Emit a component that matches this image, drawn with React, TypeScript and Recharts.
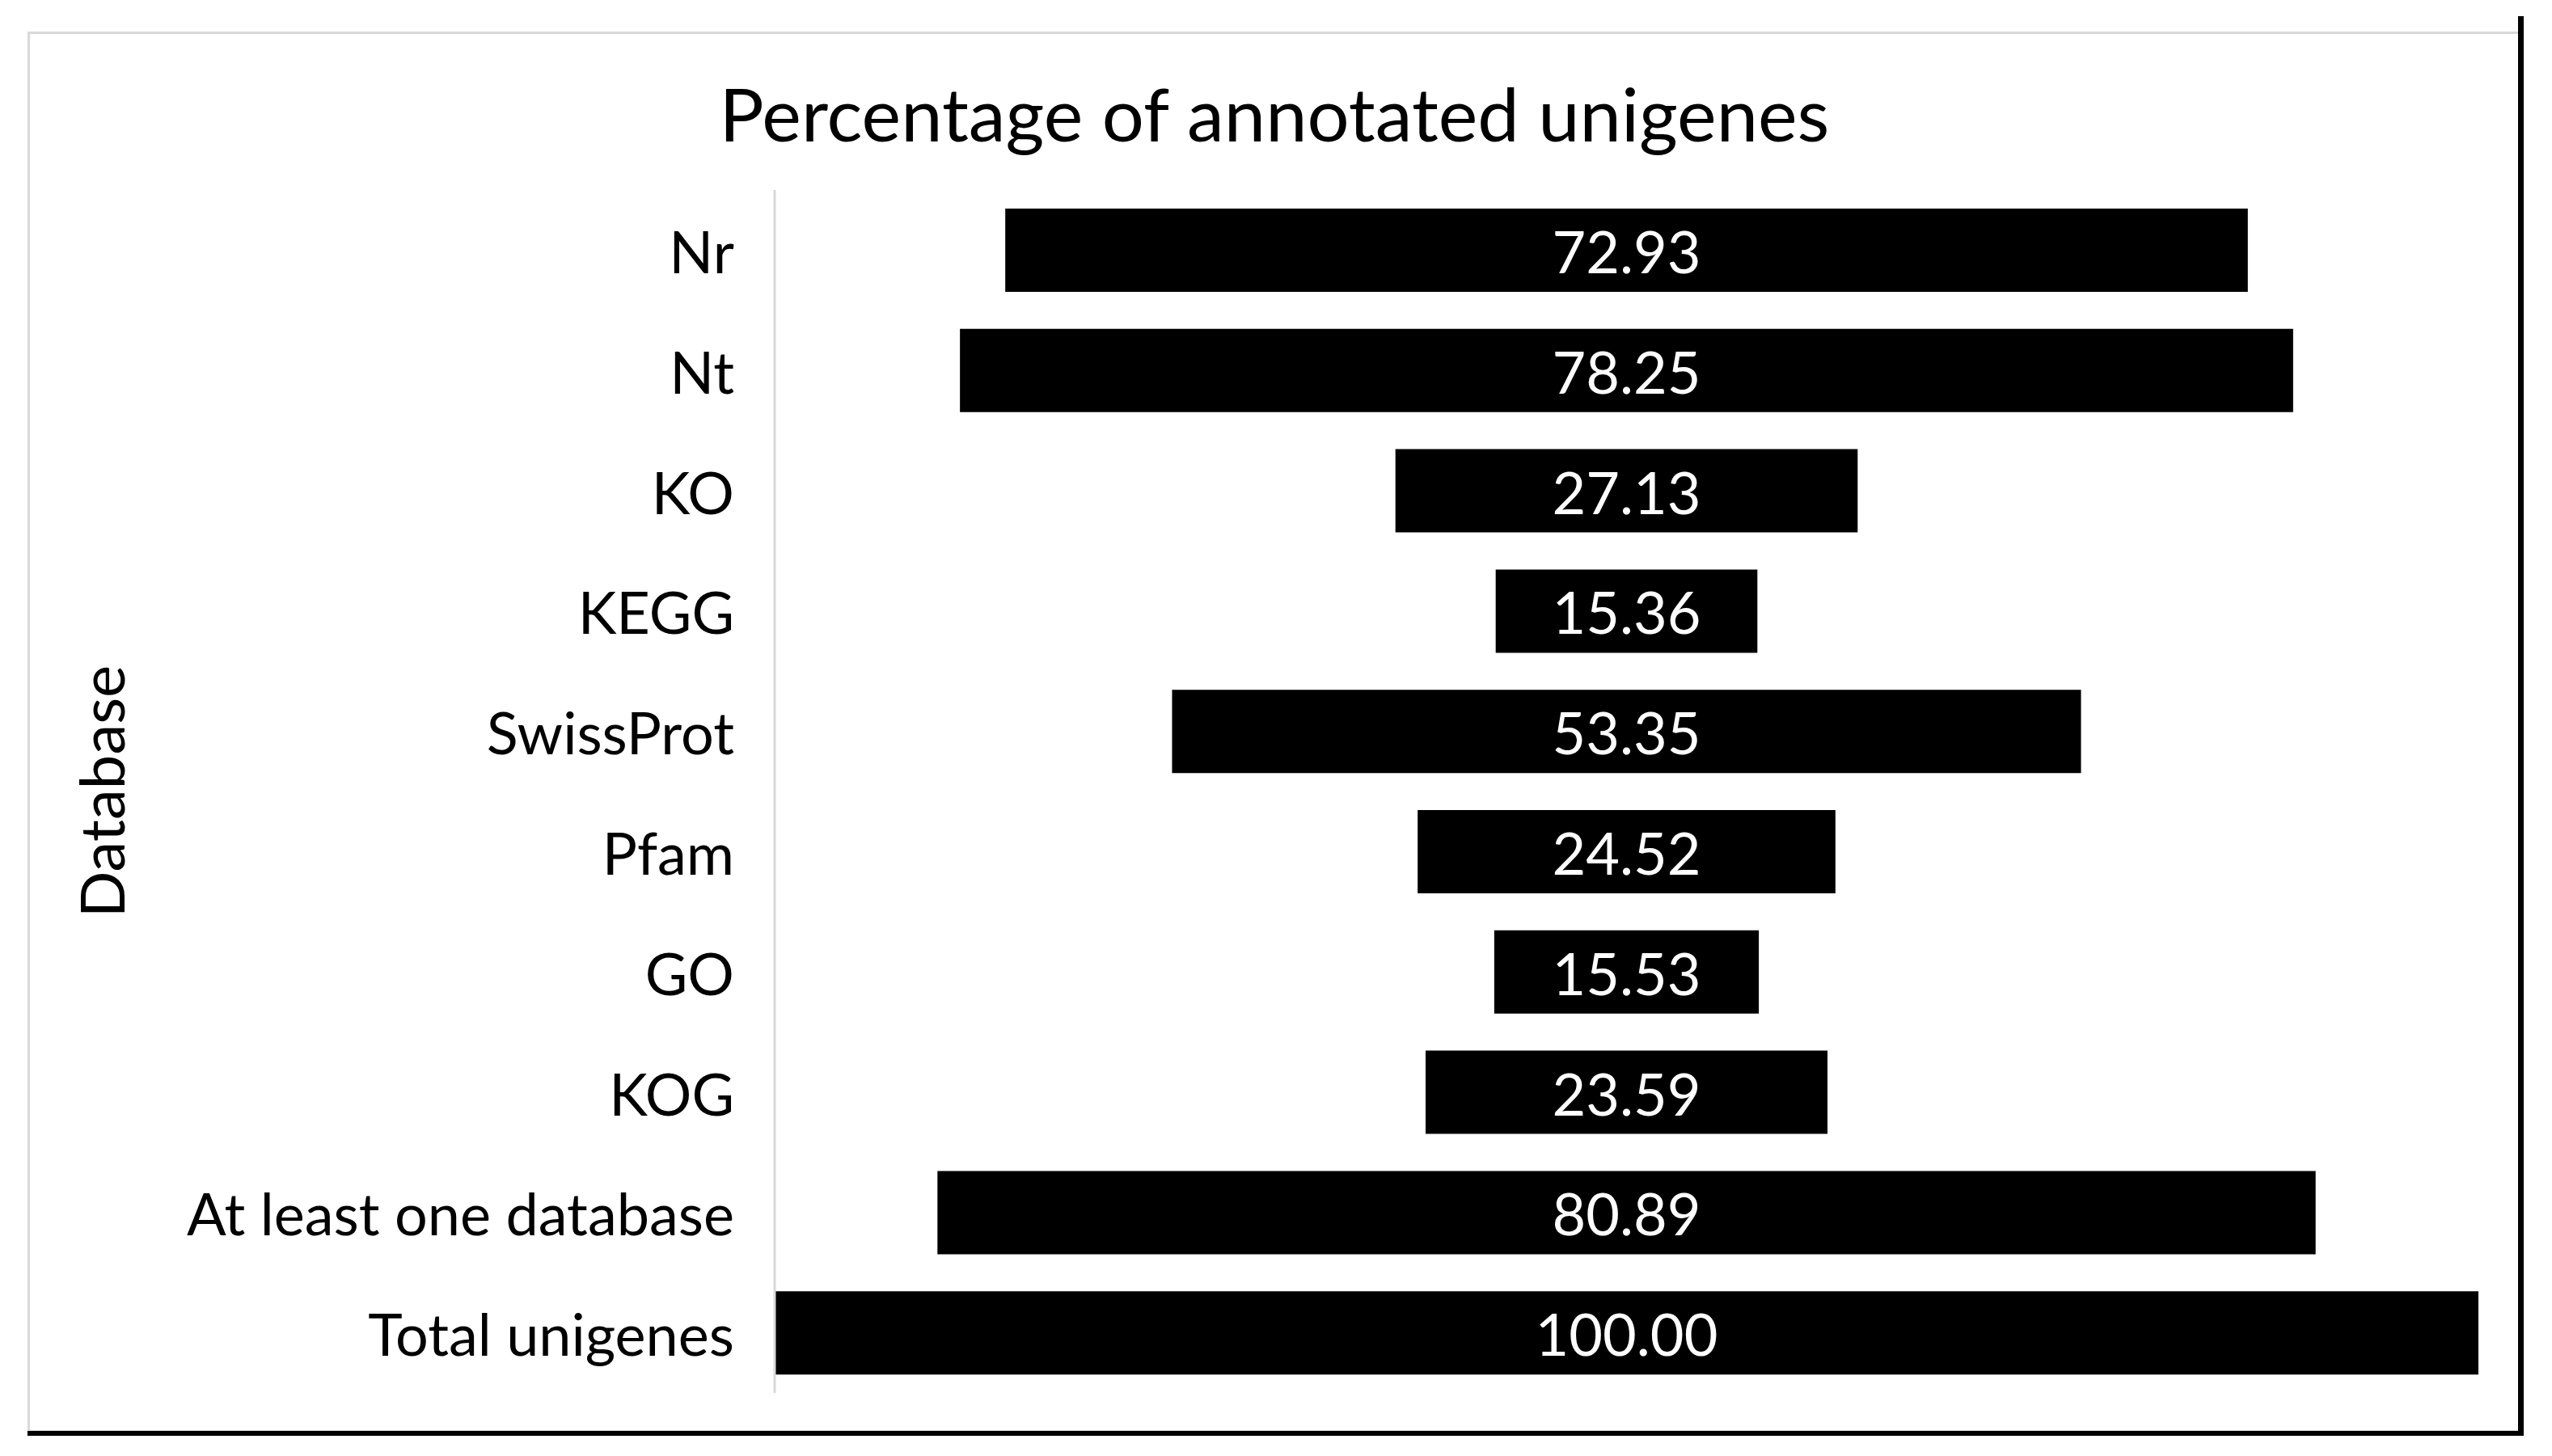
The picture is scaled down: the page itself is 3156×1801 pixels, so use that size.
import React from 'react';
import { BarChart, Bar, XAxis, YAxis, LabelList } from 'recharts';

const categories: string[] = ['Nr', 'Nt', 'KO', 'KEGG', 'SwissProt', 'Pfam', 'GO', 'KOG', 'At least one database', 'Total unigenes'];
const percentages: number[] = [72.93, 78.25, 27.13, 15.36, 53.35, 24.52, 15.53, 23.59, 80.89, 100.0];
const TITLE = 'Percentage of annotated unigenes';
const Y_LABEL = 'Database';
const FONT = 'Lato, "Open Sans", sans-serif';

const data = categories.map((name, i) => ({
  name,
  offset: (100 - percentages[i]) / 2,
  value: percentages[i],
}));

export default function App() {
  return (
    <div style={{ position: 'absolute', left: 0, top: 0, width: 3156, height: 1801, background: '#fff', fontFamily: FONT }}>
      <div
        style={{
          position: 'absolute',
          left: 34,
          top: 39,
          width: 3078,
          height: 1727,
          border: '3px solid #d9d9d9',
          boxSizing: 'content-box',
        }}
      />
      <div style={{ position: 'absolute', left: 3114, top: 20, width: 7, height: 1756, background: '#000' }} />
      <div style={{ position: 'absolute', left: 34, top: 1770, width: 3087, height: 6, background: '#000' }} />
      <svg style={{ position: 'absolute', left: 0, top: 0 }} width={3156} height={240}>
        <text x={1576} y={175} textAnchor="middle" fontSize={92} fontFamily={FONT} fill="#000">
          {TITLE}
        </text>
      </svg>
      <div style={{ position: 'absolute', left: 0, top: 0 }}>
        <BarChart
          width={3156}
          height={1801}
          data={data}
          layout="vertical"
          margin={{ top: 235, bottom: 78, left: 0, right: 91 }}
          barSize={103}
        >
          <XAxis type="number" domain={[0, 100]} hide />
          <YAxis
            type="category"
            dataKey="name"
            width={958}
            tickLine={false}
            tickSize={0}
            tickMargin={50}
            axisLine={{ stroke: '#d9d9d9', strokeWidth: 3 }}
            tick={{ fontSize: 72, fill: '#000', fontFamily: FONT, dy: 3 }}
            interval={0}
            label={{
              value: Y_LABEL,
              angle: -90,
              position: 'insideLeft',
              offset: 127,
              textAnchor: 'middle',
              fontSize: 76,
              fill: '#000',
              fontFamily: FONT,
            }}
          />
          <Bar dataKey="offset" stackId="a" fill="transparent" isAnimationActive={false} />
          <Bar dataKey="value" stackId="a" fill="#000" isAnimationActive={false}>
            <LabelList
              dataKey="value"
              position="center"
              formatter={(v: any) => Number(v).toFixed(2)}
              fill="#fff"
              fontSize={72}
              fontFamily={FONT}
              dy={3}
            />
          </Bar>
        </BarChart>
      </div>
    </div>
  );
}
